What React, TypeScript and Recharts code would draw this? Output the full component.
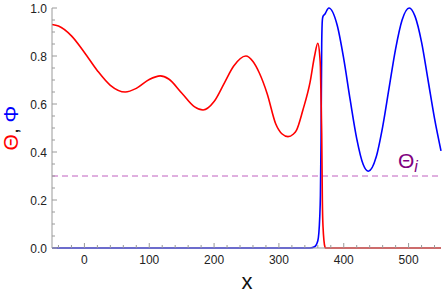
import React from 'react';
import { LineChart, Line, XAxis, YAxis, ReferenceLine } from 'recharts';

// positions along x (shared by both curves)
const xValues = [
  -50, -40, -20, 0, 20, 40, 63, 80, 100, 117, 130, 150, 170, 183, 200, 216, 230, 249, 260, 270,
  282, 295, 305, 314, 322, 327, 337, 348, 355, 360, 363, 364, 365, 366, 367, 368, 371, 372, 377,
  390, 400, 410, 420, 430, 438, 450, 460, 470, 480, 490, 501, 510, 520, 530, 540, 550,
];

// Θ (red)
const thetaValues = [
  0.931, 0.925, 0.884, 0.815, 0.739, 0.678, 0.65, 0.665, 0.702, 0.717, 0.704, 0.646, 0.588, 0.575,
  0.61, 0.688, 0.757, 0.8, 0.777, 0.728, 0.642, 0.518, 0.475, 0.464, 0.474, 0.49, 0.575, 0.69, 0.8,
  0.853, 0.8, 0.754, 0.62, 0.479, 0.2, 0.09, 0.004, 0, 0,
  0, 0, 0, 0, 0, 0, 0, 0, 0, 0, 0, 0, 0, 0, 0, 0, 0,
];

// Φ (blue)
const phiValues = [
  0, 0, 0, 0, 0, 0, 0, 0, 0, 0, 0, 0, 0, 0, 0, 0, 0, 0, 0, 0,
  0, 0, 0, 0, 0, 0, 0, 0, 0.005, 0.03, 0.13, 0.22, 0.45, 0.85, 0.95, 0.965, 0.975, 0.98, 1.0,
  0.927, 0.788, 0.616, 0.456, 0.348, 0.32, 0.379, 0.505, 0.668, 0.83, 0.95, 1.0, 0.965, 0.858,
  0.7, 0.54, 0.405,
];

const thetaInitial = 0.3;

const xMajorTicks = [0, 100, 200, 300, 400, 500];
const xTicks = [
  -40, -20, 0, 20, 40, 60, 80, 100, 120, 140, 160, 180, 200, 220, 240, 260, 280, 300, 320, 340,
  360, 380, 400, 420, 440, 460, 480, 500, 520, 540,
];
const yTicks = [
  0, 0.05, 0.1, 0.15, 0.2, 0.25, 0.3, 0.35, 0.4, 0.45, 0.5, 0.55, 0.6, 0.65, 0.7, 0.75, 0.8, 0.85,
  0.9, 0.95, 1.0,
];

const data = xValues.map((x, i) => ({ x, theta: thetaValues[i], phi: phiValues[i] }));

const FRAME = '#9a9a9a';
const FONT = '"Liberation Sans", Arial, sans-serif';

const isMajorY = (v: number) => Math.abs(v * 5 - Math.round(v * 5)) < 1e-6;

const BottomTick = (props: any) => {
  const { x, y, payload } = props;
  const major = xMajorTicks.includes(payload.value);
  return (
    <g>
      <line x1={x} x2={x} y1={y} y2={y - (major ? 5 : 3)} stroke={FRAME} />
      {major && (
        <text x={x} y={y + 16} textAnchor="middle" fontSize={12} fill="#222" fontFamily={FONT}>
          {payload.value}
        </text>
      )}
    </g>
  );
};

const TopTick = (props: any) => {
  const { x, y, payload } = props;
  const major = xMajorTicks.includes(payload.value);
  return <line x1={x} x2={x} y1={y} y2={y + (major ? 5 : 3)} stroke={FRAME} />;
};

const LeftTick = (props: any) => {
  const { x, y, payload } = props;
  const major = isMajorY(payload.value);
  return (
    <g>
      <line x1={x} x2={x + (major ? 5 : 3)} y1={y} y2={y} stroke={FRAME} />
      {major && (
        <text x={x - 5} y={y + 4.5} textAnchor="end" fontSize={12} fill="#222" fontFamily={FONT}>
          {payload.value.toFixed(1)}
        </text>
      )}
    </g>
  );
};

const RightTick = (props: any) => {
  const { x, y, payload } = props;
  const major = isMajorY(payload.value);
  return <line x1={x} x2={x - (major ? 5 : 3)} y1={y} y2={y} stroke={FRAME} />;
};

const ThetaILabel = (props: any) => {
  const { viewBox } = props;
  const right = viewBox.x + viewBox.width;
  return (
    <text x={right - 43} y={viewBox.y - 8} fill="#800080" fontFamily={FONT} fontSize={21}>
      Θ
      <tspan fontSize={16} fontStyle="italic" dy={4}>i</tspan>
    </text>
  );
};

const App: React.FC = () => {
  return (
    <div style={{ position: 'absolute', left: 0, top: 0, width: 443, height: 294 }}>
      <LineChart width={443} height={294} data={data} margin={{ top: 8, right: 2, bottom: 0, left: 0 }}>
        <XAxis
          dataKey="x"
          type="number"
          domain={[-50, 550]}
          ticks={xTicks}
          interval={0}
          height={46}
          tickSize={0}
          tickMargin={0}
          tickLine={false}
          axisLine={{ stroke: FRAME }}
          tick={<BottomTick />}
        />
        <XAxis
          xAxisId="top"
          orientation="top"
          dataKey="x"
          type="number"
          domain={[-50, 550]}
          ticks={xTicks}
          interval={0}
          height={0}
          tickSize={0}
          tickMargin={0}
          tickLine={false}
          axisLine={{ stroke: FRAME }}
          tick={<TopTick />}
        />
        <YAxis
          type="number"
          domain={[0, 1]}
          ticks={yTicks}
          interval={0}
          width={52}
          tickSize={0}
          tickMargin={0}
          tickLine={false}
          axisLine={{ stroke: FRAME }}
          tick={<LeftTick />}
        />
        <YAxis
          yAxisId="right"
          orientation="right"
          type="number"
          domain={[0, 1]}
          ticks={yTicks}
          interval={0}
          width={0}
          tickSize={0}
          tickMargin={0}
          tickLine={false}
          axisLine={{ stroke: FRAME }}
          tick={<RightTick />}
        />
        <ReferenceLine
          y={thetaInitial}
          stroke="#c060c0"
          strokeWidth={1}
          strokeDasharray="6 4"
          label={<ThetaILabel />}
        />
        <Line
          type="monotone"
          dataKey="phi"
          stroke="#0000ff"
          strokeWidth={1.6}
          dot={false}
          isAnimationActive={false}
        />
        <Line
          type="monotone"
          dataKey="theta"
          stroke="#ff0000"
          strokeWidth={1.6}
          dot={false}
          isAnimationActive={false}
        />
      </LineChart>
      <svg
        width={443}
        height={294}
        style={{ position: 'absolute', left: 0, top: 0, pointerEvents: 'none' }}
      >
        <text
          x={18}
          y={128}
          textAnchor="middle"
          fontSize={21}
          fontFamily={FONT}
          transform="rotate(-90, 18, 128)"
        >
          <tspan fill="#ff0000">Θ</tspan>
          <tspan fill="#222">, </tspan>
          <tspan fill="#0000ff">Φ</tspan>
        </text>
        <text x={247} y={289} textAnchor="middle" fontSize={22} fontFamily={FONT} fill="#111">
          x
        </text>
      </svg>
    </div>
  );
};

export default App;
